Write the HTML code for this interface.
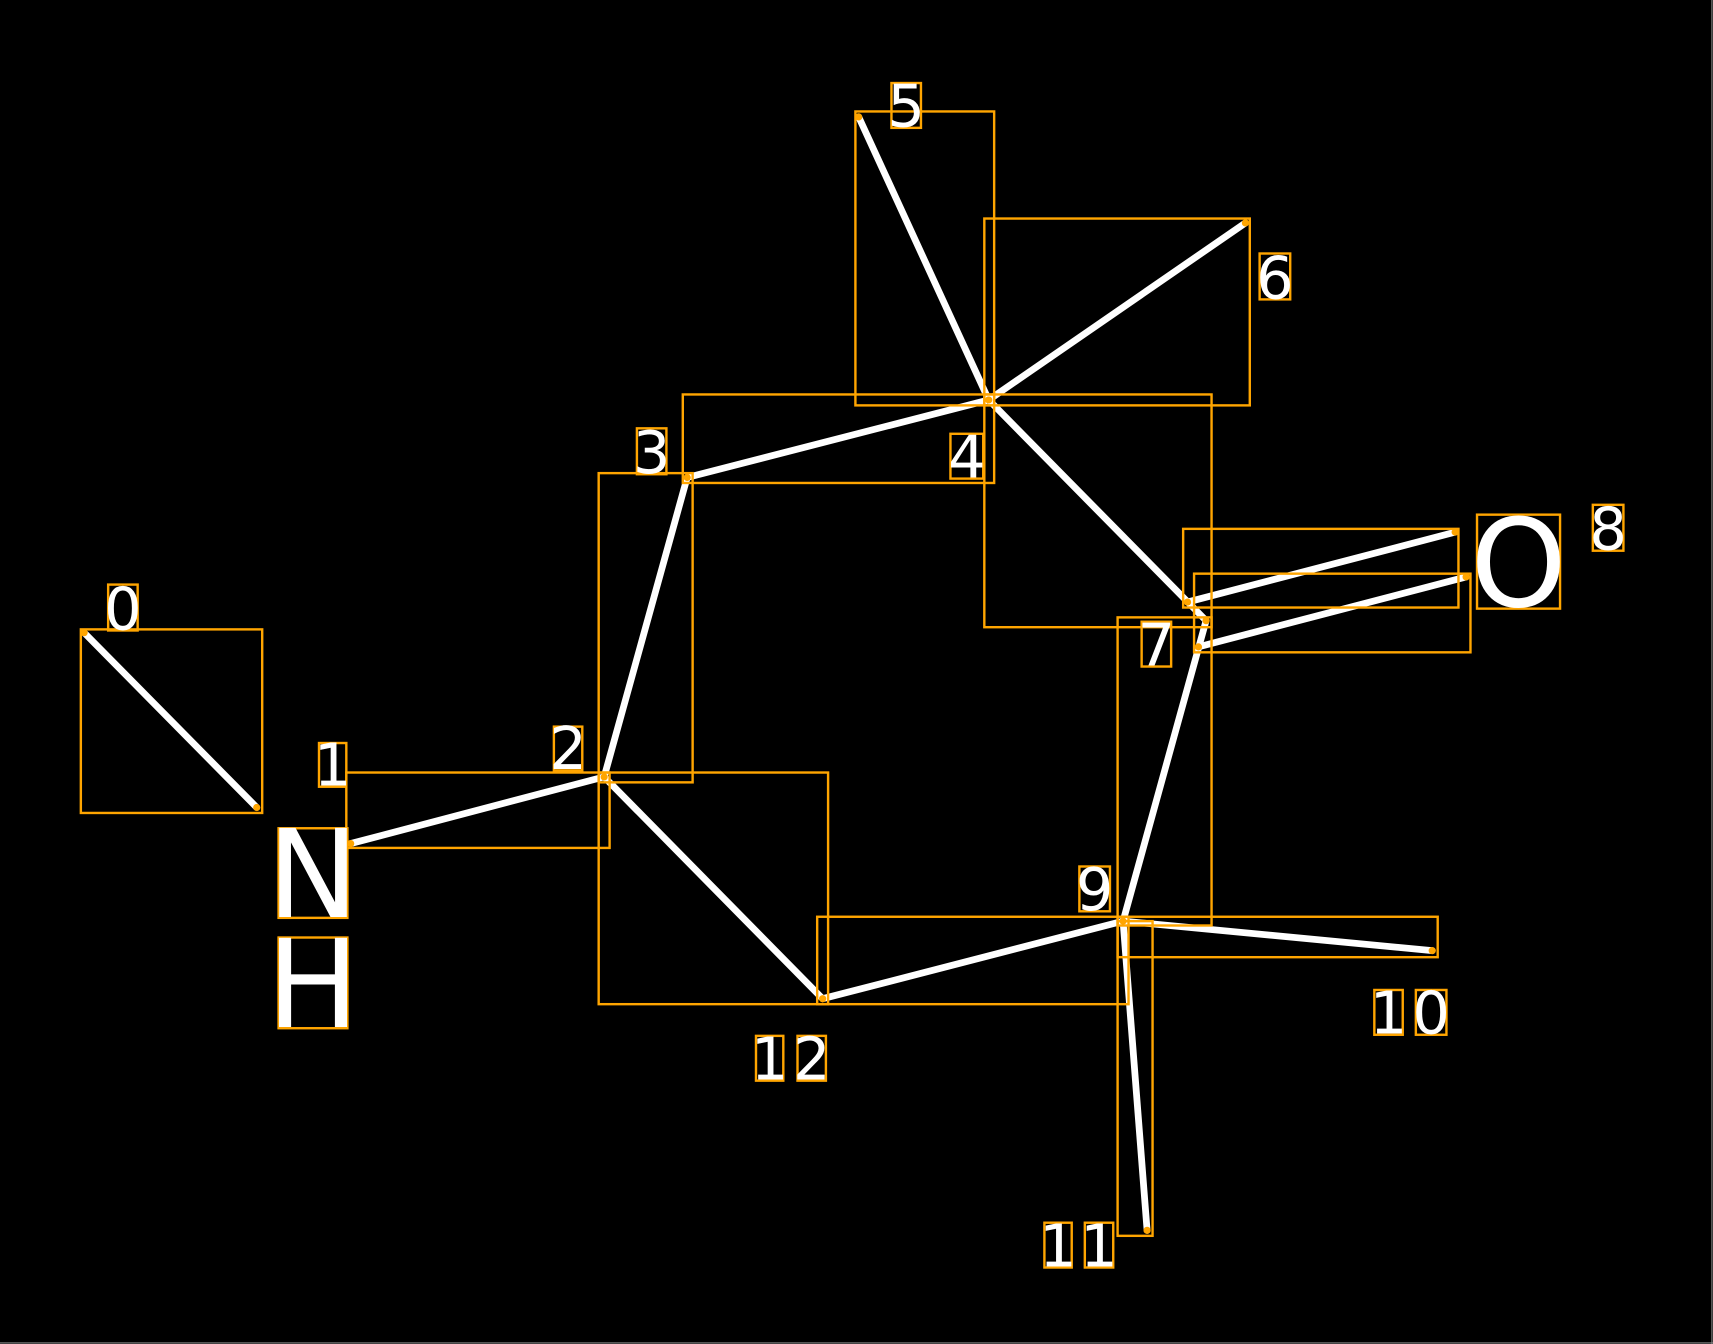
<!DOCTYPE html>
<html><head><meta charset="utf-8"><style>
html,body{margin:0;padding:0;background:#000;width:1713px;height:1344px;overflow:hidden}
svg{display:block}
text{font-family:"DejaVu Sans","Liberation Sans",sans-serif;fill:#fff;text-anchor:middle}
</style></head><body>
<svg width="1713" height="1344" viewBox="0 0 1568 1230" preserveAspectRatio="none">
<rect x="0" y="0" width="1568" height="1230" fill="#000"/>
<line x1="1567" y1="0" x2="1567" y2="1230" stroke="#888" stroke-width="1"/>
<line x1="0" y1="1229" x2="1568" y2="1229" stroke="#888" stroke-width="1"/>
<g stroke="#fff" stroke-width="6.2" stroke-linecap="round">
<line x1="77" y1="579" x2="235" y2="739"/>
<line x1="321" y1="772" x2="553" y2="711"/>
<line x1="553" y1="711" x2="629" y2="437"/>
<line x1="629" y1="437" x2="905" y2="366"/>
<line x1="786" y1="107" x2="905" y2="366"/>
<line x1="905" y1="366" x2="1140" y2="204"/>
<line x1="905" y1="366" x2="1104" y2="568"/>
<line x1="1087" y1="551" x2="1332" y2="487"/>
<line x1="1097" y1="592" x2="1342" y2="528"/>
<line x1="1028" y1="843" x2="1104" y2="568"/>
<line x1="1028" y1="843" x2="1311" y2="870"/>
<line x1="1028" y1="843" x2="1050" y2="1126"/>
<line x1="553" y1="711" x2="753" y2="914"/>
<line x1="753" y1="914" x2="1028" y2="843"/>
</g>
<g fill="none" stroke="#FFA500" stroke-width="2.2">
<rect x="74" y="576" width="166" height="168"/>
<rect x="317" y="707" width="241" height="69"/>
<rect x="548" y="433" width="86" height="283"/>
<rect x="625" y="361" width="285" height="81"/>
<rect x="783" y="102" width="127" height="269"/>
<rect x="901" y="200" width="243" height="171"/>
<rect x="901" y="361" width="208" height="213"/>
<rect x="1083" y="484" width="252" height="72"/>
<rect x="1093" y="525" width="253" height="72"/>
<rect x="1023" y="565" width="86" height="282"/>
<rect x="1023" y="839" width="293" height="37"/>
<rect x="1023" y="843" width="32" height="288"/>
<rect x="548" y="707" width="210" height="212"/>
<rect x="748" y="839" width="285" height="80"/>
<rect x="99" y="535" width="27" height="42"/>
<rect x="292" y="680" width="25" height="40"/>
<rect x="255" y="758" width="63" height="82"/>
<rect x="255" y="858" width="63" height="83"/>
<rect x="507" y="665" width="26" height="40"/>
<rect x="583" y="392" width="27" height="42"/>
<rect x="870" y="397" width="30" height="41"/>
<rect x="816" y="76" width="27" height="41"/>
<rect x="1153" y="232" width="28" height="42"/>
<rect x="1352" y="471" width="76" height="86"/>
<rect x="1458" y="462" width="28" height="42"/>
<rect x="1045" y="569" width="27" height="41"/>
<rect x="988" y="793" width="28" height="41"/>
<rect x="1258" y="906" width="26" height="41"/>
<rect x="1296" y="906" width="28" height="41"/>
<rect x="956" y="1119" width="25" height="41"/>
<rect x="993" y="1119" width="26" height="41"/>
<rect x="692" y="948" width="25" height="41"/>
<rect x="730" y="948" width="26" height="41"/>
</g>
<g fill="#FFA500">
<circle cx="77" cy="579" r="3.3"/><circle cx="235" cy="739" r="3.3"/>
<circle cx="321" cy="772" r="3.3"/><circle cx="553" cy="711" r="3.3"/>
<circle cx="629" cy="437" r="3.3"/><circle cx="905" cy="366" r="3.3"/>
<circle cx="786" cy="107" r="3.3"/><circle cx="1140" cy="204" r="3.3"/>
<circle cx="1087" cy="551" r="3.3"/><circle cx="1332" cy="487" r="3.3"/>
<circle cx="1097" cy="592" r="3.3"/><circle cx="1342" cy="528" r="3.3"/>
<circle cx="1104" cy="568" r="3.3"/><circle cx="1028" cy="843" r="3.3"/>
<circle cx="1311" cy="870" r="3.3"/><circle cx="1050" cy="1126" r="3.3"/>
<circle cx="753" cy="914" r="3.3"/>
</g>
<g font-size="54">
<text x="112.5" y="576">0</text>
<text x="304.5" y="719">1</text>
<text x="520" y="704">2</text>
<text x="596.5" y="433">3</text>
<text x="885" y="437">4</text>
<text x="829.5" y="116">5</text>
<text x="1167" y="273">6</text>
<text x="1472" y="503">8</text>
<text x="1058.5" y="609">7</text>
<text x="1002" y="833">9</text>
<text x="1271" y="946">1</text>
<text x="1310" y="946">0</text>
<text x="968.5" y="1159">1</text>
<text x="1006" y="1159">1</text>
<text x="704.5" y="988">1</text>
<text x="743" y="988">2</text>
</g>
<g font-size="112">
<text x="286.5" y="839">N</text>
<text x="286.5" y="940">H</text>
<text x="1390" y="555">O</text>
</g>
</svg>
</body></html>
